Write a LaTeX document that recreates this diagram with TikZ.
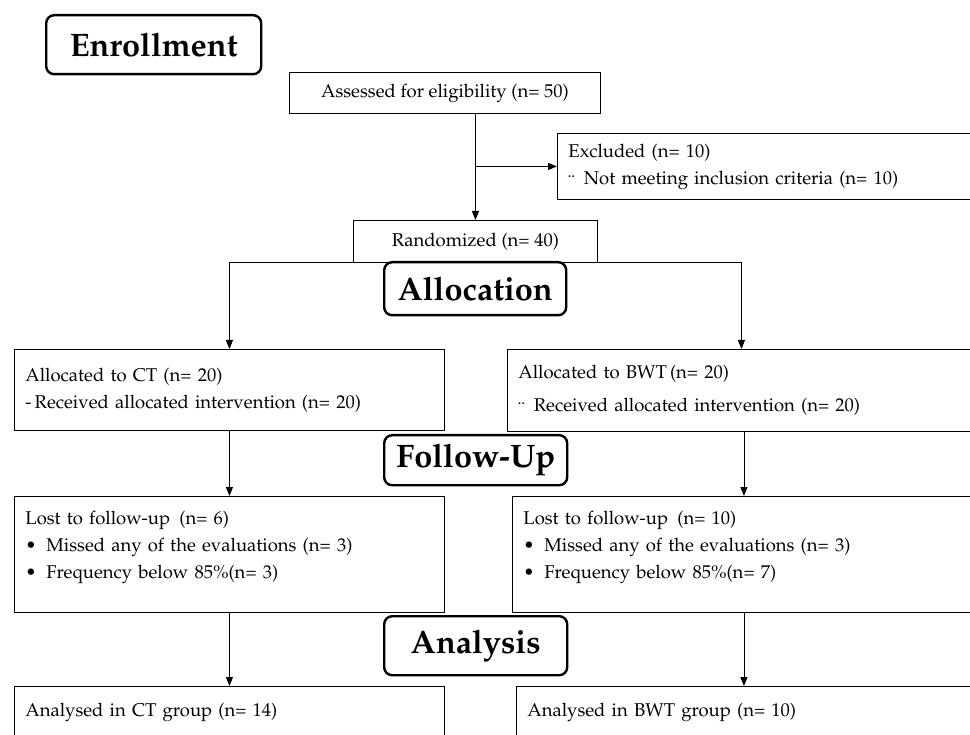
\documentclass[tikz,border=0pt]{standalone}
\usepackage[T1]{fontenc}
\usepackage{mathpazo}
\usepackage{tikz}
\usetikzlibrary{arrows.meta}

\begin{document}
\begin{tikzpicture}[x=1pt,y=-1pt,
  box/.style={draw,line width=0.9pt,inner xsep=11pt,inner ysep=0pt,anchor=north west,
    font=\fontsize{18.5}{27}\selectfont},
  lbox/.style={box,align=left},
  stage/.style={draw,line width=2.4pt,rounded corners=8pt,fill=white,inner sep=0pt,
    anchor=north west,font=\fontsize{32.5}{36}\selectfont\bfseries},
  arr/.style={line width=0.9pt,-{Triangle[length=9pt,width=7pt]}}]
\clip (0,0) rectangle (970,735);
%
\node (assessed) at (289,72) [box,minimum width=311pt,minimum height=41pt] {Assessed for eligibility (n= 50)};
\node (excl) at (557,133) [lbox,minimum width=418pt,minimum height=66pt,text width=396pt]
  {Excluded (n= 10)\\ \raisebox{-3pt}{\"{}}\enspace Not meeting inclusion criteria (n= 10)};
\node (rand) at (353,220) [box,minimum width=244pt,minimum height=42pt] {Randomized (n= 40)};
%
\node (ctalloc) at (14,349) [lbox,minimum width=430pt,minimum height=81pt,text width=408pt]
  {Allocated to CT (n= 20)\\ -\,Received allocated intervention (n= 20)};
\node (bwtalloc) at (507,349) [lbox,minimum width=468pt,minimum height=82pt,text width=446pt]
  {Allocated to BWT\,(n= 20)\\[6pt] \raisebox{-3pt}{\"{}}\enspace Received allocated intervention (n= 20)};
%
\node (lostct) at (14,496) [lbox,minimum width=430pt,minimum height=116pt,text width=408pt]
  {Lost to follow-up\enspace(n= 6)\\
   \makebox[21pt][l]{\textbullet}Missed any of the evaluations (n= 3)\\
   \makebox[21pt][l]{\textbullet}Frequency below 85\%(n= 3)\\[-8pt]\mbox{}};
\node (lostbwt) at (512,496) [lbox,minimum width=463pt,minimum height=116pt,text width=441pt]
  {Lost to follow-up\enspace(n= 10)\\
   \makebox[21pt][l]{\textbullet}Missed any of the evaluations (n= 3)\\
   \makebox[21pt][l]{\textbullet}Frequency below 85\%(n= 7)\\[-8pt]\mbox{}};
%
\node (anct) at (14,686) [lbox,minimum width=430pt,minimum height=52pt,text width=408pt]
  {Analysed in CT group (n= 14)};
\node (anbwt) at (516,686) [lbox,minimum width=459pt,minimum height=52pt,text width=437pt]
  {Analysed in BWT group (n= 10)};
%%
\draw[arr] (assessed.south -| rand.north) -- (rand.north);
\draw[arr] (rand.north |- excl.west) -- (excl.west);
%
\draw[arr] (rand.south west) -| (ctalloc.north);
\draw[arr] (rand.south east) -| (bwtalloc.north);
%
\draw[arr] (ctalloc.south) -- (lostct.north);
\draw[arr] (bwtalloc.south -| lostbwt.north) -- (lostbwt.north);
%
\draw[arr] (lostct.south) -- (anct.north);
\draw[arr] (lostbwt.south) -- (lostbwt.south |- anbwt.north);
%%
\node (enroll) at (45,14) [stage,minimum width=215pt,minimum height=59pt] {Enrollment};
\node (alloc) at (383,261) [stage,minimum width=182pt,minimum height=53pt] {Allocation};
\node (follow) at (383,434) [stage,minimum width=183pt,minimum height=50pt] {Follow-Up};
\node (analysis) at (383,615) [stage,minimum width=183pt,minimum height=59pt] {Analysis};
\end{tikzpicture}
\end{document}
